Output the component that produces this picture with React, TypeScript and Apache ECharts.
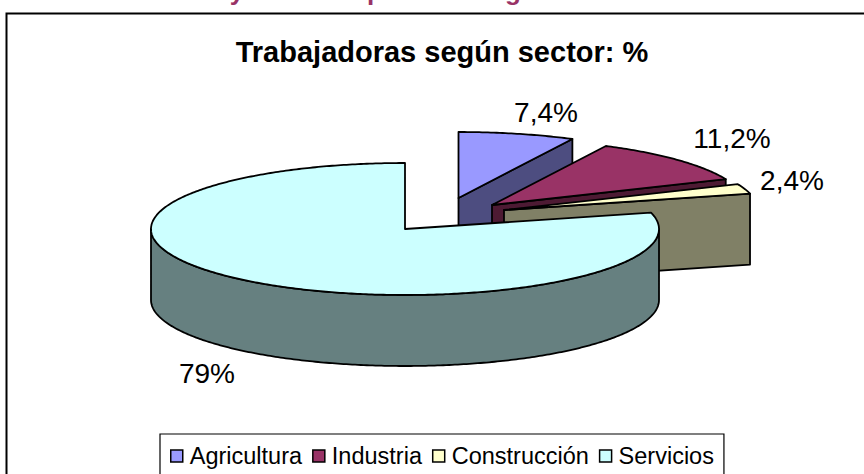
import React, { useEffect, useRef } from "react";
import * as echarts from "echarts";

const categories = ["Agricultura", "Industria", "Construcción", "Servicios"];
const values = [7.4, 11.2, 2.4, 79];
const valueLabels = ["7,4%", "11,2%", "2,4%", "79%"];
const title = "Trabajadoras según sector: %";
const topColors = ["#9999FF", "#993366", "#FFFFCC", "#CCFFFF"];
const sideColors = ["#4D4D80", "#4D1A33", "#808066", "#668080"];

const centers = [[458.5, 198], [492, 205], [504, 210], [405, 229]];
const labelPos = [[546, 112], [732, 138], [792, 180], [207, 373]];
const RX = 254, RY = 66, DEPTH = 71;
const FONT = "'Liberation Sans', Arial, sans-serif";

const pt = (c: number[], deg: number, dy = 0) => {
  const a = (deg * Math.PI) / 180;
  return [c[0] + RX * Math.sin(a), c[1] - RY * Math.cos(a) + dy];
};
const arc = (c: number[], from: number, to: number, dy = 0) => {
  const out: number[][] = [];
  const n = Math.max(2, Math.ceil((to - from) * 1.5));
  for (let i = 0; i <= n; i++) out.push(pt(c, from + ((to - from) * i) / n, dy));
  return out;
};
const lineStyle = { stroke: "#000", lineWidth: 1.8, lineJoin: "round" };

function sliceChildren(i: number) {
  const total = values.reduce((a, b) => a + b, 0);
  const before = values.slice(0, i).reduce((a, b) => a + b, 0);
  const start = (before / total) * 360;
  const end = ((before + values[i]) / total) * 360;
  const c = centers[i];
  const children: any[] = [];
  const poly = (points: number[][], fill: string) =>
    children.push({ type: "polygon", shape: { points }, style: { fill, ...lineStyle } });

  if (i === values.length - 1) {
    const wall = [...arc(c, 90, 270), ...arc(c, 90, 270, DEPTH).reverse()];
    poly(wall, sideColors[i]);
  } else {
    const e = pt(c, end);
    poly([c, e, [e[0], e[1] + DEPTH], [c[0], c[1] + DEPTH]], sideColors[i]);
  }
  poly([c, ...arc(c, start, end)], topColors[i]);
  children.push({
    type: "text",
    style: {
      x: labelPos[i][0],
      y: labelPos[i][1],
      text: valueLabels[i],
      fill: "#000",
      font: `28px ${FONT}`,
      align: "center",
      verticalAlign: "middle",
    },
  });
  return children;
}

const option: any = {
  animation: false,
  backgroundColor: "#fff",
  title: {
    text: title,
    left: 437,
    top: 32,
    textAlign: "center",
    textStyle: { fontFamily: FONT, fontSize: 29, fontWeight: "bold", color: "#000" },
  },
  legend: {
    left: 160,
    top: 434,
    orient: "horizontal",
    padding: [10, 10, 30, 10],
    borderColor: "#000",
    borderWidth: 1.2,
    itemWidth: 12,
    itemHeight: 12,
    itemGap: 10,
    icon: "rect",
    selectedMode: false,
    textStyle: { fontFamily: FONT, fontSize: 23.5, color: "#000", padding: [0, 0, 4, 2] },
    data: categories.map((name, i) => ({
      name,
      itemStyle: { color: topColors[i], borderColor: "#000", borderWidth: 1.5 },
    })),
  },
  graphic: [
    { type: "rect", shape: { x: 6.5, y: 13.5, width: 900, height: 500 }, style: { fill: "none", stroke: "#000", lineWidth: 2 }, silent: true, z: -1 },
    ...[["y", 237], ["p", 375], ["g", 513]].map(([t, x]) => ({
      type: "text",
      style: { x, y: 4, text: t, fill: "#993366", font: `bold 26px ${FONT}`, align: "center", verticalAlign: "bottom" },
    })),
  ],
  series: categories.map((name, i) => ({
    type: "custom",
    name,
    coordinateSystem: "none",
    itemStyle: { color: topColors[i] },
    data: [values[i]],
    z: 2 + i,
    renderItem: () => ({ type: "group", children: sliceChildren(i) }),
  })),
};

export default function App() {
  const ref = useRef<HTMLDivElement>(null);
  useEffect(() => {
    const chart = echarts.init(ref.current!, undefined, { renderer: "svg" });
    chart.setOption(option);
    return () => chart.dispose();
  }, []);
  return <div ref={ref} style={{ position: "absolute", left: 0, top: 0, width: 864, height: 474 }} />;
}
